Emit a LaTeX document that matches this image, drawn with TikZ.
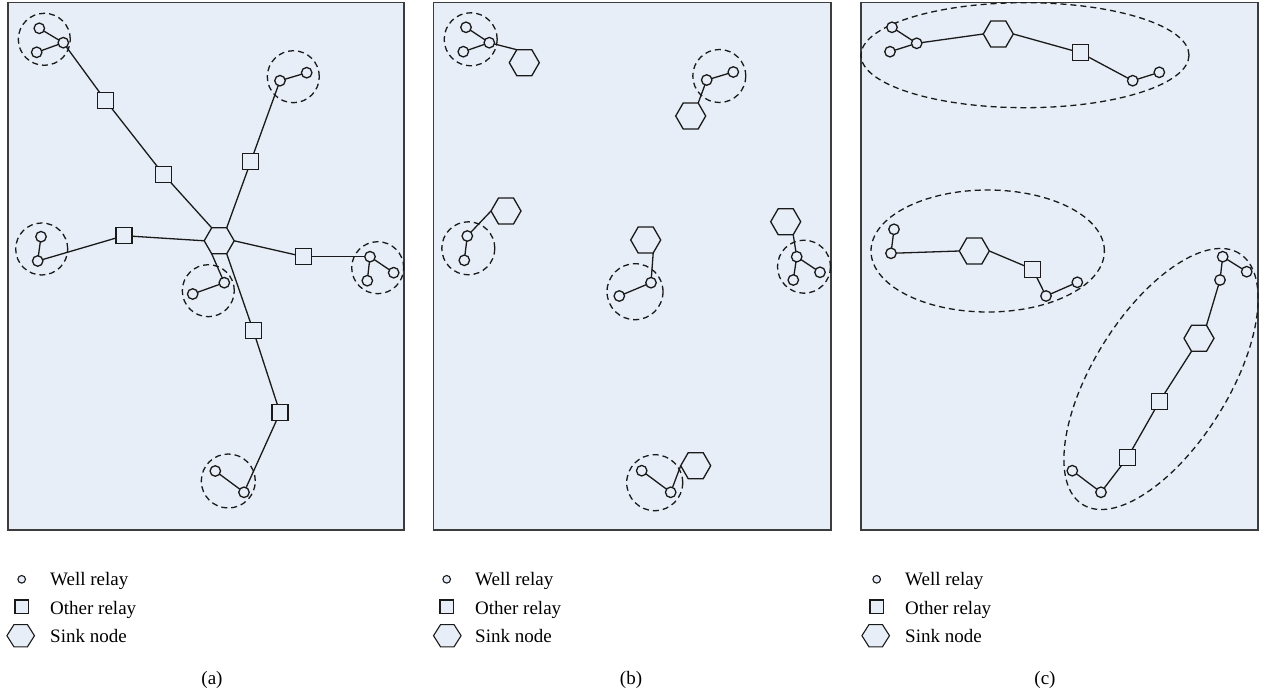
\documentclass[tikz,border=0pt]{standalone}
\usepackage{fontspec}
\setmainfont{Liberation Serif}
\usetikzlibrary{shapes.geometric}
\definecolor{bg}{HTML}{E7EEF7}
\definecolor{framec}{HTML}{3C3C3C}
\definecolor{ink}{HTML}{1A1A1A}
\newcommand{\leghex}[2]{\draw[legsym] (#1,#2) ++(-13.8,0) -- ++(7.1,-11.15) -- ++(13.4,0) -- ++(7.1,11.15) -- ++(-7.1,11.15) -- ++(-13.4,0) -- cycle;}
\begin{document}
\begin{tikzpicture}[x=1pt,y=-1pt,
  panel/.style={draw=framec, fill=bg, line width=1.6pt},
  well/.style={circle, draw=ink, fill=bg, line width=1.3pt, inner sep=0pt, outer sep=0pt, minimum size=10.5pt},
  other/.style={rectangle, draw=ink, fill=bg, line width=1.3pt, inner sep=0pt, outer sep=0pt, minimum size=16pt},
  sink/.style={regular polygon, regular polygon sides=6, draw=ink, fill=bg, line width=1.3pt, inner sep=0pt, outer sep=0pt, minimum size=30pt},
  zone/.style={circle, draw=ink, dash pattern=on 6pt off 4pt, line width=1.3pt, inner sep=0pt, minimum size=52pt},
  area/.style={ellipse, draw=ink, dash pattern=on 6pt off 4pt, line width=1.3pt, inner sep=0pt},
  link/.style={draw=ink, line width=1.3pt},
  legsym/.style={draw=ink, fill=bg, line width=1.1pt},
  lwell/.style={circle, draw=ink, fill=bg, line width=1.1pt, inner sep=0pt, minimum size=7.6pt},
  lother/.style={rectangle, draw=ink, fill=bg, line width=1.1pt, inner sep=0pt, minimum size=13.5pt},
  legtext/.style={anchor=base west, inner sep=0pt, font=\fontsize{19}{22}\selectfont},
  captext/.style={anchor=base, inner sep=0pt, font=\fontsize{19}{22}\selectfont}]
\useasboundingbox (0,0) rectangle (1262,695);
\fill[white] (0,0) rectangle (1262,695);
% panels
\path[panel] (8,2.5) rectangle (404,530);
\path[panel] (433.5,2.5) rectangle (830.7,530);
\path[panel] (861,2.5) rectangle (1257.7,530);

% ---------------- panel (a) ----------------
\node[zone] (ag1) at (44.3,39.3) {};
\node[zone] (ag2) at (293.3,76.7) {};
\node[zone] (ag3) at (41.7,249) {};
\node[zone] (ag4) at (377.7,267.7) {};
\node[zone] (ag5) at (208.3,290.7) {};
\node[zone, minimum size=54pt] (ag6) at (228.3,481) {};

\node[well] (aw1) at (39.3,28.3) {};
\node[well] (aw2) at (36.7,52.3) {};
\node[well] (aw3) at (63.3,42.7) {};
\node[other] (ao1) at (105.7,100.7) {};
\node[other] (ao2) at (163.7,174.7) {};
\node[sink] (as) at (219.2,240.8) {};
\node[other] (ao3) at (250.7,161.7) {};
\node[well] (aw4) at (280,80.7) {};
\node[well] (aw5) at (306.7,72.7) {};
\node[other] (ao4) at (124,235.7) {};
\node[well] (aw6) at (37.7,261) {};
\node[well] (aw7) at (41,236.7) {};
\node[other] (ao5) at (303.7,256.7) {};
\node[well] (aw8) at (370,256.7) {};
\node[well] (aw9) at (393.7,272.7) {};
\node[well] (aw10) at (367.3,280.7) {};
\node[well] (aw11) at (192.7,294) {};
\node[well] (aw12) at (224.3,282.7) {};
\node[other] (ao6) at (253.3,330.7) {};
\node[other] (ao7) at (280,412.7) {};
\node[well] (aw13) at (244,492.3) {};
\node[well] (aw14) at (215.3,471) {};

\draw[link] (aw1) -- (aw3);
\draw[link] (aw2) -- (aw3);
\draw[link] (aw3) -- (ao1);
\draw[link] (ao1) -- (ao2);
\draw[link] (ao2) -- (as.120);
\draw[link] (as.60) -- (ao3);
\draw[link] (ao3) -- (aw4);
\draw[link] (aw4) -- (aw5);
\draw[link] (as.180) -- (ao4);
\draw[link] (ao4) -- (aw6);
\draw[link] (aw6) -- (aw7);
\draw[link] (as.0) -- (ao5);
\draw[link] (ao5) -- (aw8);
\draw[link] (aw8) -- (aw9);
\draw[link] (aw8) -- (aw10);
\draw[link] (as.240) -- (aw12);
\draw[link] (aw12) -- (aw11);
\draw[link] (as.300) -- (ao6);
\draw[link] (ao6) -- (ao7);
\draw[link] (ao7) -- (aw13);
\draw[link] (aw13) -- (aw14);

% ---------------- panel (b) ----------------
\node[zone, minimum size=53pt] (bg1) at (470.7,39.3) {};
\node[zone, minimum size=53pt] (bg2) at (719.3,76) {};
\node[zone, minimum size=53pt] (bg3) at (468.3,248.3) {};
\node[zone, minimum size=56pt] (bg4) at (635,291.7) {};
\node[zone, minimum size=53pt] (bg5) at (804,266.7) {};
\node[zone, minimum size=56pt] (bg6) at (654.7,482.7) {};

\node[well] (bw1) at (466,27.3) {};
\node[well] (bw2) at (463.3,51.7) {};
\node[well] (bw3) at (489.3,42.7) {};
\node[sink] (bs1) at (524.3,62.7) {};
\node[well] (bw4) at (706.7,80) {};
\node[well] (bw5) at (733.3,72) {};
\node[sink] (bs2) at (690.7,116) {};
\node[sink] (bs3) at (506,211) {};
\node[well] (bw6) at (467.3,236) {};
\node[well] (bw7) at (464.3,260.3) {};
\node[sink] (bs4) at (645.7,240) {};
\node[well] (bw8) at (651,282.7) {};
\node[well] (bw9) at (619.3,296) {};
\node[sink] (bs5) at (785.7,221.7) {};
\node[well] (bw10) at (796.7,256.7) {};
\node[well] (bw11) at (820,272.3) {};
\node[well] (bw12) at (793.3,280) {};
\node[well] (bw13) at (641.7,470.7) {};
\node[well] (bw14) at (670.7,492.3) {};
\node[sink] (bs6) at (695.7,465.7) {};

\draw[link] (bw1) -- (bw3);
\draw[link] (bw2) -- (bw3);
\draw[link] (bw3) -- (bs1.120);
\draw[link] (bw4) -- (bw5);
\draw[link] (bw4) -- (bs2.60);
\draw[link] (bs3.180) -- (bw6);
\draw[link] (bw6) -- (bw7);
\draw[link] (bs4.300) -- (bw8);
\draw[link] (bw8) -- (bw9);
\draw[link] (bs5.300) -- (bw10);
\draw[link] (bw10) -- (bw11);
\draw[link] (bw10) -- (bw12);
\draw[link] (bw13) -- (bw14);
\draw[link] (bw14) -- (bs6.180);

% ---------------- panel (c) ----------------
\node[area, minimum width=328pt, minimum height=105pt] (ce1) at (1025,55.2) {};
\node[area, minimum width=233.4pt, minimum height=122pt] (ce2) at (987.7,251) {};
\node[area, minimum width=296pt, minimum height=135pt, rotate=58] (ce3) at (1161,379) {};

\node[well] (cw1) at (892,27.3) {};
\node[well] (cw2) at (890,51.7) {};
\node[well] (cw3) at (916.7,43.3) {};
\node[sink] (cs1) at (998.3,34) {};
\node[other] (co1) at (1080.3,52.7) {};
\node[well] (cw4) at (1132.7,80.7) {};
\node[well] (cw5) at (1159.3,72.3) {};

\node[well] (cw6) at (894,229.3) {};
\node[well] (cw7) at (891,253.3) {};
\node[sink] (cs2) at (974.3,251) {};
\node[other] (co2) at (1032.7,269.3) {};
\node[well] (cw8) at (1046,296) {};
\node[well] (cw9) at (1077.3,282.3) {};

\node[well] (cw10) at (1222.7,256.7) {};
\node[well] (cw11) at (1246.7,271.7) {};
\node[well] (cw12) at (1220,280) {};
\node[sink] (cs3) at (1199,338.3) {};
\node[other] (co3) at (1159.3,401.7) {};
\node[other] (co4) at (1127.7,457.3) {};
\node[well] (cw13) at (1101,492.3) {};
\node[well] (cw14) at (1072.3,470.7) {};

\draw[link] (cw1) -- (cw3);
\draw[link] (cw2) -- (cw3);
\draw[link] (cw3) -- (cs1.180);
\draw[link] (cs1.0) -- (co1);
\draw[link] (co1) -- (cw4);
\draw[link] (cw4) -- (cw5);
\draw[link] (cw6) -- (cw7);
\draw[link] (cw7) -- (cs2.180);
\draw[link] (cs2.0) -- (co2);
\draw[link] (co2) -- (cw8);
\draw[link] (cw8) -- (cw9);
\draw[link] (cw10) -- (cw11);
\draw[link] (cw10) -- (cw12);
\draw[link] (cw12) -- (cs3.60);
\draw[link] (cs3.240) -- (co3);
\draw[link] (co3) -- (co4);
\draw[link] (co4) -- (cw13);
\draw[link] (cw13) -- (cw14);

% ---------------- legends ----------------
\node[lwell] (alw) at (21.7,579.3) {};
\node[lother] (alo) at (21.7,606.7) {};
\leghex{20.7}{635.7}
\node[legtext] (alt1) at (50,585) {Well relay};
\node[legtext] (alt2) at (50,614) {Other relay};
\node[legtext] (alt3) at (50,642) {Sink node};
\node[captext] (acap) at (212,684) {(a)};

\node[lwell] (blw) at (446.7,579.3) {};
\node[lother] (blo) at (446.7,606.7) {};
\leghex{447.3}{635.7}
\node[legtext] (blt1) at (475,585) {Well relay};
\node[legtext] (blt2) at (475,614) {Other relay};
\node[legtext] (blt3) at (475,642) {Sink node};
\node[captext] (bcap) at (631,684) {(b)};

\node[lwell] (clw) at (876.7,579.3) {};
\node[lother] (clo) at (876.7,606.7) {};
\leghex{875.7}{635.7}
\node[legtext] (clt1) at (905,585) {Well relay};
\node[legtext] (clt2) at (905,614) {Other relay};
\node[legtext] (clt3) at (905,642) {Sink node};
\node[captext] (ccap) at (1045,684) {(c)};
\end{tikzpicture}
\end{document}
